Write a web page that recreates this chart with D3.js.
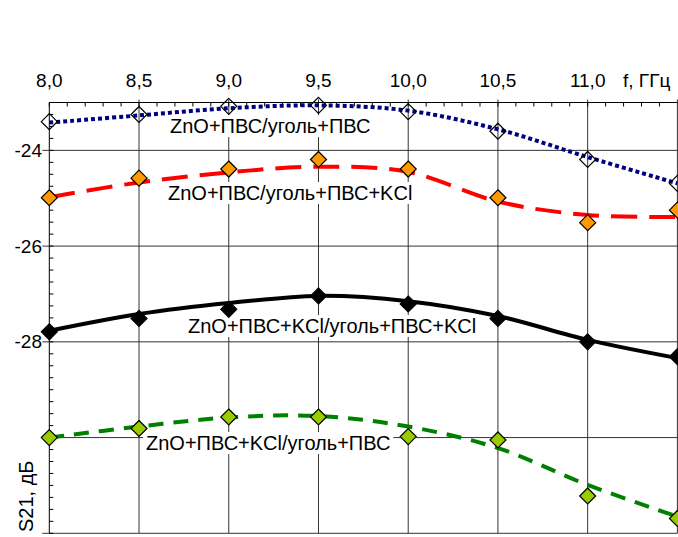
<!DOCTYPE html>
<html>
<head>
<meta charset="utf-8">
<script src="https://cdn.jsdelivr.net/npm/d3@7"></script>
<style>
  body { margin: 0; background: #fff; }
  svg { display: block; font-family: "Liberation Sans", Arial, sans-serif; }
</style>
</head>
<body>
<svg id="chart" width="678" height="537"></svg>
<script>
// frequency, GHz
const freq = [8.0, 8.5, 9.0, 9.5, 10.0, 10.5, 11.0, 11.5];
const xTickLabels = ["8,0", "8,5", "9,0", "9,5", "10,0", "10,5", "11,0"];
const yTickValues = [-24, -26, -28];
const yTickLabels = ["-24", "-26", "-28"];

// S21, dB: measured points
const blueVals  = [-23.40, -23.25, -23.08, -23.06, -23.19, -23.60, -24.19, -24.69];
const redVals   = [-24.99, -24.58, -24.39, -24.19, -24.39, -24.99, -25.51, -25.25];
const blackVals = [-27.79, -27.51, -27.32, -27.04, -27.21, -27.51, -28.00, -28.31];
const greenVals = [-30.00, -29.81, -29.57, -29.57, -29.98, -30.05, -31.22, -31.69];

// trend curves at the same frequencies
const blueFit  = [-23.42, -23.27, -23.12, -23.06, -23.17, -23.56, -24.14, -24.69];
const redFit   = [-24.98, -24.67, -24.46, -24.34, -24.45, -25.07, -25.35, -25.39];
const blackFit = [-27.77, -27.42, -27.19, -27.04, -27.15, -27.46, -27.96, -28.34];
const greenFit = [-30.00, -29.77, -29.58, -29.55, -29.77, -30.22, -30.99, -31.65];

const seriesNames = [
  "ZnO+ПВС/уголь+ПВС",
  "ZnO+ПВС/уголь+ПВС+KCl",
  "ZnO+ПВС+KCl/уголь+ПВС+KCl",
  "ZnO+ПВС+KCl/уголь+ПВС"
];

const series = [
  { name: seriesNames[0], vals: blueVals,  fit: blueFit,  line: "#000080", dash: "4,3",   fill: "none",    lx: 170, ly: 133 },
  { name: seriesNames[1], vals: redVals,   fit: redFit,   line: "#ff0000", dash: "26,12", fill: "#ff9900", lx: 168, ly: 200 },
  { name: seriesNames[2], vals: blackVals, fit: blackFit, line: "#000000", dash: null,    fill: "#000000", lx: 188, ly: 333 },
  { name: seriesNames[3], vals: greenVals, fit: greenFit, line: "#008000", dash: "15,10", fill: "#99cc00", lx: 146, ly: 450 }
];

const svg = d3.select("#chart");
const x = d3.scaleLinear().domain([8, 11.5]).range([49.3, 677.4]);
const y = d3.scaleLinear().domain([-23, -32]).range([102.5, 533.3]);
const x0 = x(8), x1 = x(11.5), y0 = y(-23), y1 = y(-32);

// grid
const grid = svg.append("g").attr("stroke", "#333").attr("stroke-width", 1);
grid.selectAll(".vg").data(d3.range(8.5, 11.51, 0.5)).enter().append("line")
  .attr("x1", d => x(d)).attr("x2", d => x(d))
  .attr("y1", y0 - 3).attr("y2", y1);
grid.selectAll(".hg").data([-24, -26, -28, -30, -32]).enter().append("line")
  .attr("x1", x0 - 7).attr("x2", x1)
  .attr("y1", d => y(d)).attr("y2", d => y(d));

// axes
const ax = svg.append("g").attr("stroke", "#000").attr("stroke-width", 1);
ax.append("line").attr("x1", x0).attr("x2", x1).attr("y1", y0).attr("y2", y0);
ax.append("line").attr("x1", x0).attr("x2", x0).attr("y1", y0).attr("y2", y1);
ax.selectAll(".mx").data(d3.range(0, 35).map(i => 8 + i * 0.1)).enter().append("line")
  .attr("x1", d => x(d)).attr("x2", d => x(d))
  .attr("y1", y0).attr("y2", y0 + 4);
ax.selectAll(".my").data(d3.range(0, 37).map(i => -23 - i * 0.25)).enter().append("line")
  .attr("x1", x0).attr("x2", x0 + 4)
  .attr("y1", d => y(d)).attr("y2", d => y(d));

// tick labels
svg.selectAll(".xl").data(xTickLabels).enter().append("text")
  .attr("x", (d, i) => x(freq[i])).attr("y", 87)
  .attr("text-anchor", "middle").attr("font-size", 19).text(d => d);
svg.append("text").attr("x", 623).attr("y", 87).attr("font-size", 19).text("f, ГГц");
svg.selectAll(".yl").data(yTickValues).enter().append("text")
  .attr("x", 42).attr("y", d => y(d) + 6.5)
  .attr("text-anchor", "end").attr("font-size", 19).text((d, i) => yTickLabels[i]);
svg.append("text").attr("transform", "translate(33,532) rotate(-90)")
  .attr("font-size", 20).text("S21, дБ");

// series labels with white boxes
series.forEach(s => {
  const g = svg.append("g");
  const t = g.append("text").attr("x", s.lx).attr("y", s.ly)
    .attr("font-size", 20).text(s.name);
  const b = t.node().getBBox();
  g.insert("rect", "text").attr("x", b.x - 3).attr("y", b.y)
    .attr("width", b.width + 6).attr("height", b.height).attr("fill", "#fff");
});

// curves
const line = d3.line().x((d, i) => x(freq[i])).y(d => y(d)).curve(d3.curveCatmullRom.alpha(0.5));
series.forEach(s => {
  svg.append("path").attr("d", line(s.fit))
    .attr("fill", "none").attr("stroke", s.line).attr("stroke-width", 4)
    .attr("stroke-dasharray", s.dash);
});

// markers
const r = 8;
const diamond = `M0,${-r}L${r},0L0,${r}L${-r},0Z`;
series.forEach(s => {
  svg.append("g").selectAll("path").data(s.vals).enter().append("path")
    .attr("transform", (d, i) => `translate(${x(freq[i])},${y(d)})`)
    .attr("d", diamond).attr("fill", s.fill)
    .attr("stroke", "#000").attr("stroke-width", 1.2);
});
</script>
</body>
</html>
